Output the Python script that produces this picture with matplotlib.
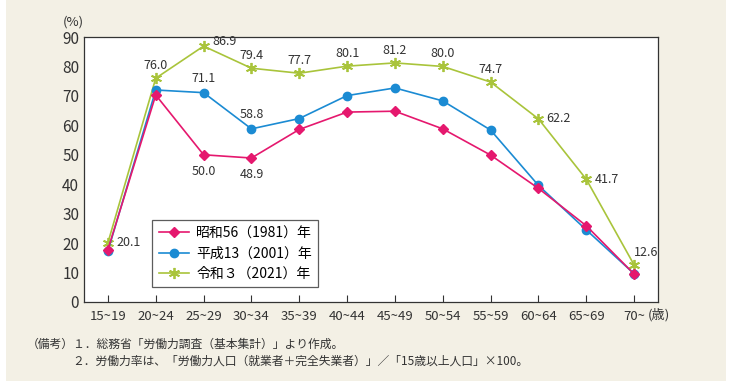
import numpy as np
import matplotlib.pyplot as plt
from matplotlib.patches import Rectangle

plt.rcParams['font.family'] = ['Noto Sans CJK JP', 'DejaVu Sans']

# Age groups and labour force participation rates (%)
ages = ['15~19', '20~24', '25~29', '30~34', '35~39', '40~44',
        '45~49', '50~54', '55~59', '60~64', '65~69', '70~']
rate_1981 = [17.8, 70.3, 50.0, 48.9, 58.6, 64.5, 64.8, 58.8, 49.9, 38.6, 25.9, 9.5]
rate_2001 = [17.3, 72.0, 71.1, 58.8, 62.3, 70.1, 72.7, 68.3, 58.4, 39.6, 24.5, 9.6]
rate_2021 = [20.1, 76.0, 86.9, 79.4, 77.7, 80.1, 81.2, 80.0, 74.7, 62.2, 41.7, 12.6]
names = ['昭和56（1981）年', '平成13（2001）年', '令和３（2021）年']

c_pink = '#e5186e'
c_blue = '#1b8bd3'
c_green = '#a9c43b'

fig = plt.figure(figsize=(7.36, 3.81), dpi=100)
fig.patch.set_facecolor('white')
bg = Rectangle((6 / 736, 0), 720 / 736, 1, transform=fig.transFigure,
               facecolor='#f3f0e5', edgecolor='none', zorder=-10)
fig.add_artist(bg)

ax = fig.add_axes([84 / 736, 79 / 381, 574 / 736, 265 / 381])
ax.set_zorder(1)
ax.set_facecolor('white')
x = np.arange(len(ages))

ax.plot(x, rate_1981, color=c_pink, marker='D', markersize=5.5, lw=1.2, label=names[0], zorder=4)
ax.plot(x, rate_2001, color=c_blue, marker='o', markersize=6, lw=1.2, label=names[1], zorder=3)
ax.plot(x, rate_2021, color=c_green, marker=(6, 2, 0), markersize=8, mew=1.3, lw=1.2,
        label=names[2], zorder=2)

# data labels (offset in points, horizontal alignment)
green_pos = [(6, 0, 'left'), (0, 9, 'center'), (6, 3, 'left'), (0, 9, 'center'),
             (0, 9, 'center'), (0, 9, 'center'), (0, 9, 'center'), (0, 9, 'center'),
             (0, 9, 'center'), (6, 0, 'left'), (6, 0, 'left'), (0, 9, 'left')]
for i, v in enumerate(rate_2021):
    dx, dy, ha = green_pos[i]
    ax.annotate(f'{v:.1f}', (x[i], v), xytext=(dx, dy), textcoords='offset points',
                ha=ha, va='center', fontsize=9, color='#333333')
for i in [2, 3]:
    ax.annotate(f'{rate_2001[i]:.1f}', (x[i], rate_2001[i]), xytext=(0, 10),
                textcoords='offset points', ha='center', va='center', fontsize=9, color='#333333')
    ax.annotate(f'{rate_1981[i]:.1f}', (x[i], rate_1981[i]), xytext=(0, -12),
                textcoords='offset points', ha='center', va='center', fontsize=9, color='#333333')

ax.set_xlim(-0.5, 11.5)
ax.set_ylim(0, 90)
ax.set_yticks(range(0, 91, 10))
ax.set_xticks(x)
ax.set_xticklabels(ages)
ax.tick_params(axis='x', direction='in', length=5, width=0.8, color='#333333',
               labelsize=9.5, labelcolor='#333333', pad=6)
ax.tick_params(axis='y', length=0, labelsize=11, labelcolor='#333333', pad=3.5)
for s in ax.spines.values():
    s.set_color('#333333')
    s.set_linewidth(0.9)

ax.text(-0.5, 93, '(%)', ha='right', va='bottom', fontsize=9.5, color='#333333')
ax.text(11.29, -4.5, '(歳)', ha='left', va='center', fontsize=9.5, color='#333333')

leg = ax.legend(loc='lower left', bbox_to_anchor=(0.107, 0.03), fontsize=10,
                frameon=True, fancybox=False, edgecolor='#333333', borderpad=0.45,
                handlelength=2.2, handletextpad=0.5, labelspacing=0.45)
leg.get_frame().set_linewidth(0.9)

fig.text(27 / 736, 1 - 344 / 381, '（備考）１．総務省「労働力調査（基本集計）」より作成。',
         fontsize=8.5, va='center', color='#333333')
fig.text(72 / 736, 1 - 361 / 381,
         '２．労働力率は、「労働力人口（就業者＋完全失業者）」／「15歳以上人口」×100。',
         fontsize=8.5, va='center', color='#333333')

fig.savefig('out.png', dpi=100)
